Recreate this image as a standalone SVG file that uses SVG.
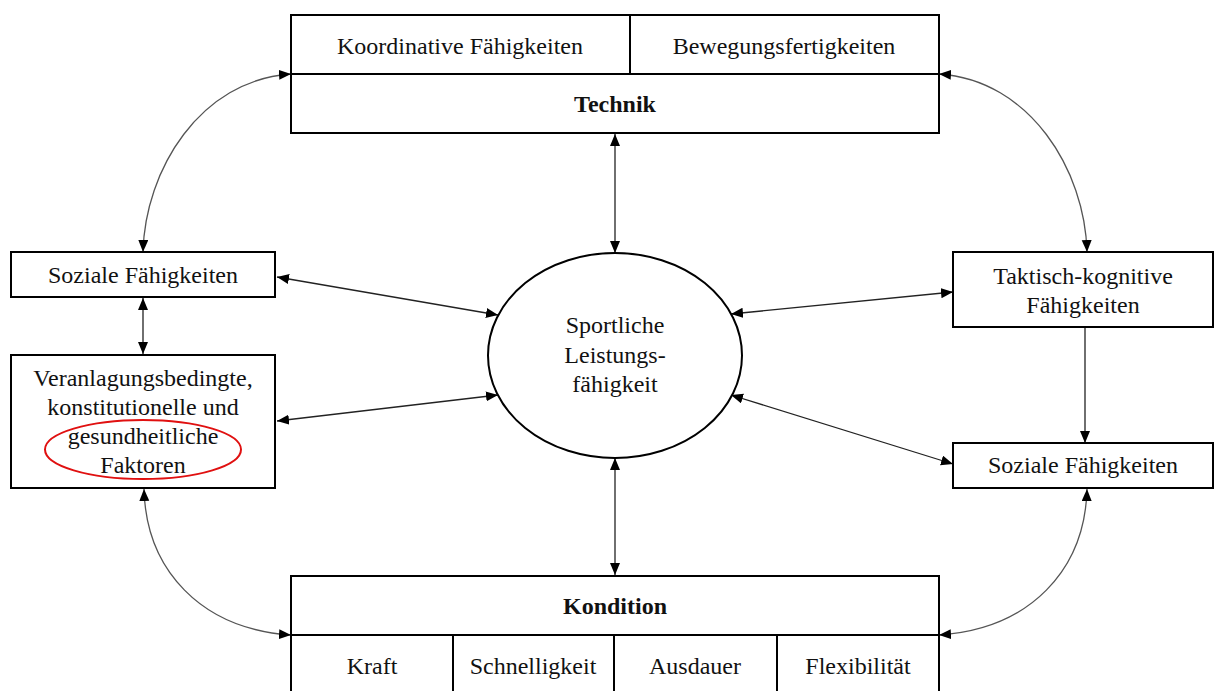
<svg xmlns="http://www.w3.org/2000/svg" width="1215" height="691" viewBox="0 0 1215 691">
  <style>
    .box { fill: #ffffff; stroke: #000000; stroke-width: 2; }
    .div { fill: none; stroke: #000000; stroke-width: 2; }
    .t { font-family: "Liberation Serif", "Times New Roman", serif; font-size: 24px; fill: #111111; text-anchor: middle; }
    .b { font-weight: bold; }
    .line { fill: none; stroke: #222222; stroke-width: 1.3; marker-end: url(#arr); }
    .both { marker-start: url(#arr); }
    .curve { fill: none; stroke: #555555; stroke-width: 1.3; marker-start: url(#arr); marker-end: url(#arr); }
  </style>
  <defs>
    <marker id="arr" markerUnits="userSpaceOnUse" markerWidth="13" markerHeight="11" refX="12" refY="5" orient="auto-start-reverse">
      <path d="M0,0 L12,5 L0,10 Z" fill="#000000"/>
    </marker>
  </defs>
  <rect width="1215" height="691" fill="#ffffff"/>

  <!-- connectors -->
  <g id="connectors">
    <line class="line both" x1="615" y1="134" x2="615" y2="253"/>
    <line class="line both" x1="615" y1="458" x2="615" y2="575"/>
    <line class="line both" x1="277" y1="277" x2="498" y2="315"/>
    <line class="line both" x1="277" y1="421" x2="498" y2="395"/>
    <line class="line both" x1="953" y1="292" x2="731" y2="314"/>
    <line class="line both" x1="953" y1="464" x2="731" y2="395"/>
    <line class="line" x1="1085" y1="328" x2="1085" y2="443"/>
    <line class="line both" x1="143" y1="298" x2="143" y2="354"/>
    <path class="curve" d="M143 252 C 145 170, 200 80, 291 74"/>
    <path class="curve" d="M1087 252 C 1085 170, 1030 80, 939 74"/>
    <path class="curve" d="M144 489 C 146 570, 201 629, 291 635"/>
    <path class="curve" d="M1087 489 C 1085 570, 1030 629, 939 635"/>
  </g>

  <!-- Technik -->
  <g id="technik">
    <rect class="box" x="291" y="15" width="648" height="118"/>
    <line class="div" x1="291" y1="74" x2="939" y2="74"/>
    <line class="div" x1="630" y1="15" x2="630" y2="74"/>
    <text class="t" x="460" y="54">Koordinative Fähigkeiten</text>
    <text class="t" x="784" y="54">Bewegungsfertigkeiten</text>
    <text class="t b" x="615" y="112">Technik</text>
  </g>

  <!-- Kondition -->
  <g id="kondition">
    <rect class="box" x="291" y="576" width="648" height="125"/>
    <line class="div" x1="291" y1="635" x2="939" y2="635"/>
    <line class="div" x1="453" y1="635" x2="453" y2="691"/>
    <line class="div" x1="614" y1="635" x2="614" y2="691"/>
    <line class="div" x1="777" y1="635" x2="777" y2="691"/>
    <text class="t b" x="615" y="614">Kondition</text>
    <text class="t" x="372" y="674">Kraft</text>
    <text class="t" x="533" y="674">Schnelligkeit</text>
    <text class="t" x="695" y="674">Ausdauer</text>
    <text class="t" x="858" y="674">Flexibilität</text>
  </g>

  <!-- Sportliche Leistungsfähigkeit -->
  <g id="leistung">
    <ellipse class="box" cx="615" cy="355.5" rx="127" ry="102.5"/>
    <text class="t" x="615" y="333">Sportliche</text>
    <text class="t" x="615" y="363">Leistungs-</text>
    <text class="t" x="615" y="392">fähigkeit</text>
  </g>

  <!-- Soziale Fähigkeiten (left) -->
  <g id="soziale-links">
    <rect class="box" x="11" y="252" width="264" height="45"/>
    <text class="t" x="143" y="283">Soziale Fähigkeiten</text>
  </g>

  <!-- Veranlagungsbedingte Faktoren -->
  <g id="veranlagung">
    <rect class="box" x="11" y="355" width="264" height="133"/>
    <text class="t" x="143" y="386">Veranlagungsbedingte,</text>
    <text class="t" x="143" y="415">konstitutionelle und</text>
    <text class="t" x="143" y="444">gesundheitliche</text>
    <text class="t" x="143" y="473">Faktoren</text>
    <ellipse cx="143" cy="449.5" rx="98" ry="29.5" fill="none" stroke="#e01010" stroke-width="2"/>
  </g>

  <!-- Taktisch-kognitive Fähigkeiten -->
  <g id="taktisch">
    <rect class="box" x="953" y="252" width="260" height="75"/>
    <text class="t" x="1083" y="284">Taktisch-kognitive</text>
    <text class="t" x="1083" y="313">Fähigkeiten</text>
  </g>

  <!-- Soziale Fähigkeiten (right) -->
  <g id="soziale-rechts">
    <rect class="box" x="953" y="443" width="260" height="45"/>
    <text class="t" x="1083" y="473">Soziale Fähigkeiten</text>
  </g>
</svg>
